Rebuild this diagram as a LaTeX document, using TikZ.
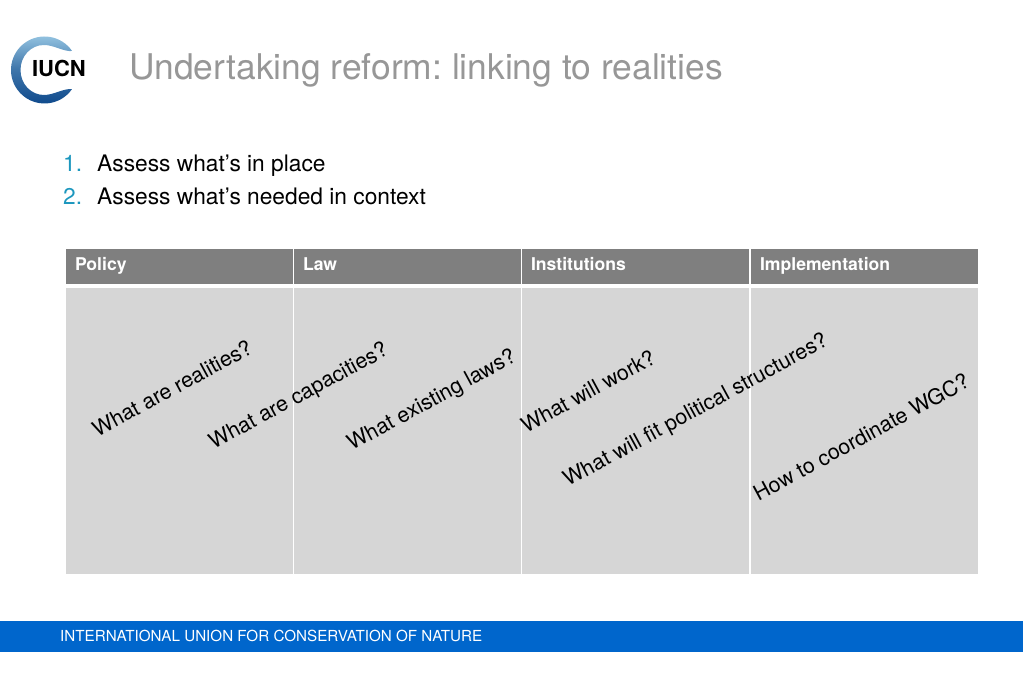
\documentclass[tikz,border=0pt]{standalone}
\usepackage{fontspec}
\setmainfont{TeX Gyre Heros}
\frenchspacing
\definecolor{headgray}{HTML}{7F7F7F}
\definecolor{cellgray}{HTML}{D6D6D6}
\definecolor{titlegray}{HTML}{979797}
\definecolor{numblue}{HTML}{1C97BE}
\definecolor{footblue}{HTML}{0066CC}
\definecolor{ringdark}{HTML}{0F4A8C}
\definecolor{ringlight}{HTML}{9CCBE6}
\tikzset{
	headcell/.style={fill=headgray,text=white,inner sep=0pt,minimum width=226.2pt,minimum height=35pt,
		text width=209pt,align=left,text height=13pt,text depth=4pt,font=\fontsize{17.6}{20}\selectfont\bfseries},
	bodycell/.style={fill=cellgray,inner sep=0pt,minimum width=226.2pt,minimum height=286pt},
	question/.style={rotate=28.5,inner sep=0pt,font=\fontsize{21.4}{24}\selectfont},
	listtext/.style={anchor=base west,inner sep=0pt,font=\fontsize{22.75}{24}\selectfont},
	listnum/.style={listtext,text=numblue}
}
\begin{document}
\begin{tikzpicture} [x=1pt,y=1pt]
	\useasboundingbox (0,0) rectangle (1023,682);
	% logo
	\shade [top color=ringlight,bottom color=ringdark,middle color=ringdark!65!ringlight]
		(44.5,612) ++(35:33.5) arc (35:325:33.5) .. controls (64,594) and (54,587) .. (44,587)
		.. controls (31,587) and (20.5,598) .. (20.5,612)
		.. controls (20.5,626) and (31,637) .. (44,637)
		.. controls (54,637) and (64,630) .. (72,631) -- cycle;
	\node (logo) at (59,614) [inner sep=0pt,font=\fontsize{22}{24}\selectfont\bfseries] {IUCN};
	% title and list
	\node (title) at (129,602) [anchor=base west,inner sep=0pt,text=titlegray,font=\fontsize{35.4}{38}\selectfont] {Undertaking reform: linking to realities};
	\node (numa) at (63,510) [listnum] {1.};
	\node (itema) at (97,510) [listtext] {Assess what’s in place};
	\node (numb) at (63,477.5) [listnum] {2.};
	\node (itemb) at (97,477.5) [listtext] {Assess what’s needed in context};
	% table
	\foreach \name/\cx/\label in {policy/179.5/Policy,law/407.5/Law,inst/635.5/Institutions,impl/864.5/Implementation} {
		\node (\name) at (\cx,415.5) [headcell] {\label};
		\node (\name body) at (\cx,251) [bodycell] {};
	}
	% questions
	\node (qa) at (172,294) [question] {What are realities?};
	\node (qb) at (299,285) [question] {What are capacities?};
	\node (qc) at (432,281) [question] {What existing laws?};
	\node (qd) at (588,291) [question] {What will work?};
	\node (qe) at (696,271) [question] {What will fit political structures?};
	\node (qf) at (861,245) [question] {How to coordinate WGC?};
	% footer
	\fill [footblue] (0,30) rectangle (1023,61);
	\node (foot) at (60,40) [anchor=base west,inner sep=0pt,text=white,font=\fontsize{15.2}{16}\selectfont] {INTERNATIONAL UNION FOR CONSERVATION OF NATURE};
\end{tikzpicture}
\end{document}
